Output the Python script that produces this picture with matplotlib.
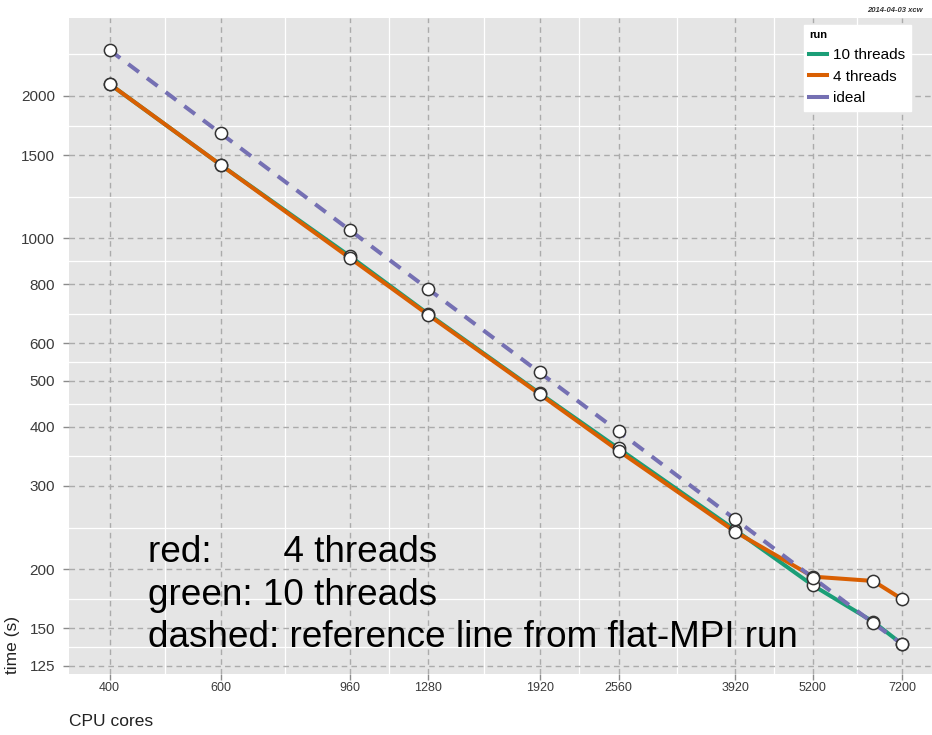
import numpy as np
import matplotlib
matplotlib.use('Agg')
import matplotlib.pyplot as plt
from matplotlib.lines import Line2D
from matplotlib.ticker import FixedLocator, NullFormatter

# data
cores = [400, 600, 960, 1280, 1920, 2560, 3920, 5200, 6480, 7200]
t_10threads = [2120, 1430, 918, 692, 471, 360, 242, 185, 155, 139]
t_4threads = [2120, 1430, 910, 689, 469, 356, 240, 193, 189, 173]
t_ideal = [2500, 1667, 1042, 781, 521, 391, 255, 192, 154, 139]

x_ticks = [400, 600, 960, 1280, 1920, 2560, 3920, 5200, 7200]
y_ticks = [125, 150, 200, 300, 400, 500, 600, 800, 1000, 1500, 2000]

green = '#1B9E77'
orange = '#D95F02'
purple = '#7570B3'

plt.rcParams['font.family'] = ['Liberation Sans', 'DejaVu Sans']

fig = plt.figure(figsize=(9.32, 7.35), dpi=100)
ax = fig.add_axes([69/932, 1 - 674/735, (932 - 69)/932, (674 - 18)/735])
ax.set_facecolor('#E5E5E5')
ax.set_xscale('log')
ax.set_yscale('log')
ax.set_xlim(345, 8030)
ax.set_ylim(120.2, 2922)

# ticks + grid (ggplot style: minor lines halfway between majors in log space)
ax.xaxis.set_major_locator(FixedLocator(x_ticks))
ax.set_xticklabels([str(v) for v in x_ticks])
ax.yaxis.set_major_locator(FixedLocator(y_ticks))
ax.set_yticklabels([str(v) for v in y_ticks])
x_minor = np.sqrt(np.array(x_ticks[:-1]) * np.array(x_ticks[1:]))
y_ext = np.array(y_ticks + [3000])
y_minor = np.sqrt(y_ext[:-1] * y_ext[1:])
ax.xaxis.set_minor_locator(FixedLocator(x_minor))
ax.yaxis.set_minor_locator(FixedLocator(y_minor))
ax.xaxis.set_minor_formatter(NullFormatter())
ax.yaxis.set_minor_formatter(NullFormatter())
ax.tick_params(which='minor', length=0)
ax.tick_params(which='major', length=4, width=1, color='#8C8C8C')
ax.tick_params(axis='x', labelsize=9, pad=2, labelcolor='#3A3A3A')
ax.tick_params(axis='y', labelsize=11, pad=6, labelcolor='#3A3A3A')
ax.grid(which='minor', color='white', lw=0.9)
ax.grid(which='major', color='#ABABAB', lw=1.0, linestyle=(0, (4, 3)))
ax.set_axisbelow(True)
for s in ax.spines.values():
    s.set_visible(False)

# lines
ax.plot(cores, t_10threads, color=green, lw=2.9, zorder=2)
ax.plot(cores, t_4threads, color=orange, lw=2.9, zorder=2)
ax.plot(cores, t_ideal, color=purple, lw=2.9, dashes=(3.3, 2.5), zorder=2)

# points
for vals in (t_10threads, t_4threads, t_ideal):
    ax.plot(cores, vals, 'o', ms=8.8, mfc='white', mec='#333333', mew=1.1, zorder=4)

# legend
handles = [Line2D([], [], color=green, lw=2.9),
           Line2D([], [], color=orange, lw=2.9),
           Line2D([], [], color=purple, lw=2.9)]
leg = ax.legend(handles, ['10 threads', '4 threads', 'ideal'], title='run',
                loc='upper right', bbox_to_anchor=(0.979, 0.994),
                frameon=True, fancybox=False, edgecolor='white', facecolor='white',
                framealpha=1, fontsize=11, title_fontsize=8, handlelength=1.2,
                borderpad=0.35, labelspacing=0.5, handletextpad=0.4,
                borderaxespad=0.2, alignment='left')
leg.get_title().set_fontweight('bold')
leg.set_zorder(5)

# annotation
ax.text(0.0915, 0.12,
        'red:       4 threads\ngreen: 10 threads\ndashed: reference line from flat-MPI run',
        transform=ax.transAxes, fontsize=26.6, va='center', ha='left',
        linespacing=1.27, zorder=6)

# axis titles
ax.set_xlabel('CPU cores', loc='left', fontsize=12.5, color='#222222', labelpad=14)
ax.set_ylabel('time (s)', loc='bottom', fontsize=12.5, color='#222222', labelpad=1)

fig.text(923/932, 1 - 11/735, '2014-04-03 xcw', ha='right', va='center',
         fontsize=5.5, fontweight='bold', style='italic', color='#333333')

fig.savefig('out.png', dpi=100)
